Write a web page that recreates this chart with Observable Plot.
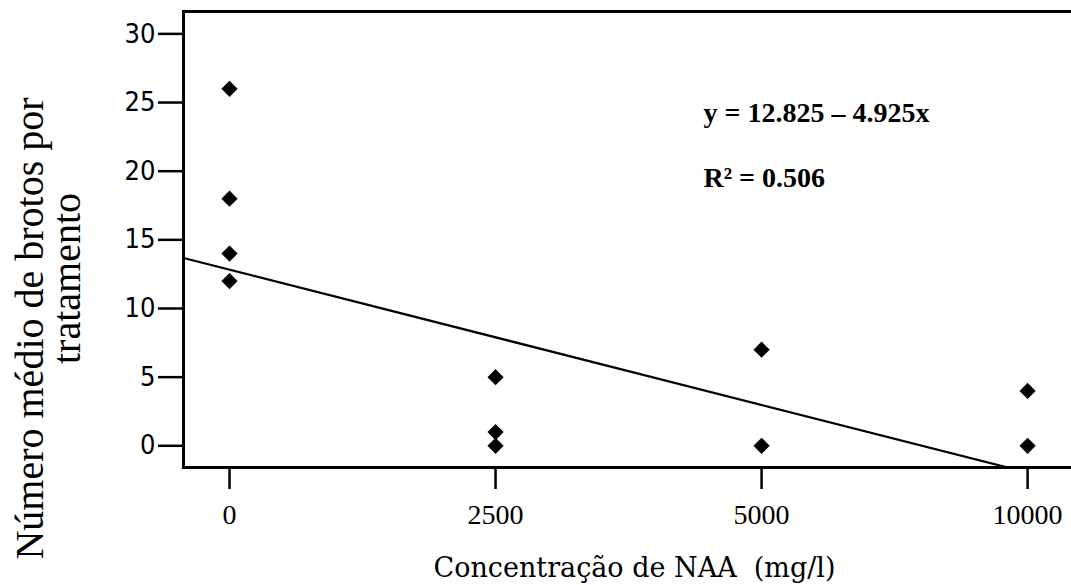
<!DOCTYPE html>
<html>
<head>
<meta charset="utf-8">
<script src="https://cdn.jsdelivr.net/npm/d3@7"></script>
<script src="https://cdn.jsdelivr.net/npm/@observablehq/plot@0.6"></script>
<style>
  html, body { margin: 0; padding: 0; background: #fff; }
</style>
</head>
<body>
<div id="chart"></div>
<script>
// Categories (equally spaced on the axis)
const concentrations = ["0", "2500", "5000", "10000"];
// Observations: category index and value
const pointCategory = [0, 0, 0, 0, 1, 1, 1, 2, 2, 3, 3];
const pointValue    = [26, 18, 14, 12, 5, 1, 0, 7, 0, 4, 0];
// Y ticks
const yTicks = [0, 5, 10, 15, 20, 25, 30];
// Regression
const intercept = 12.825;
const slope = -4.925;
const rSquared = 0.506;
// Labels
const xLabel = "Concentração de NAA  (mg/l)";
const yLabelLines = ["Número médio de brotos por", "tratamento"];

const xDomain = [-0.173, 3.165];
const yDomain = [-1.58, 31.63];

const points = pointCategory.map((c, i) => ({c, v: pointValue[i]}));
const fit = xDomain.map(c => ({c, v: intercept + slope * c}));
const eq1 = `y = ${intercept} – ${Math.abs(slope)}x`;
const eq2 = `R² = ${rSquared}`;

const chart = Plot.plot({
  width: 1071,
  height: 585,
  marginLeft: 183,
  marginRight: 0,
  marginTop: 11,
  marginBottom: 118,
  style: {background: "#fff", color: "#000", fontFamily: "Liberation Serif"},
  x: {type: "linear", domain: xDomain, axis: null},
  y: {domain: yDomain, axis: null},
  marks: [
    Plot.frame({anchor: "left", strokeWidth: 3, stroke: "#000"}),
    Plot.frame({anchor: "top", strokeWidth: 3, stroke: "#000"}),
    Plot.frame({anchor: "bottom", strokeWidth: 3, stroke: "#000"}),
    Plot.axisY(yTicks, {
      tickSize: 25, tickPadding: 3, strokeWidth: 2.5,
      fontSize: 27, fontFamily: "DejaVu Sans Condensed", label: null
    }),
    Plot.axisX([0, 1, 2, 3], {
      tickSize: 22, tickPadding: 15, strokeWidth: 2.5,
      tickFormat: i => concentrations[i],
      fontSize: 28, fontFamily: "Liberation Serif", label: null
    }),
    Plot.line(fit, {x: "c", y: "v", stroke: "#000", strokeWidth: 2.2, clip: true}),
    Plot.dot(points, {x: "c", y: "v", symbol: "diamond2", r: 7.3, fill: "#000", stroke: "none"}),
    Plot.text([eq1], {frameAnchor: "top-left", dx: 520, dy: 102, textAnchor: "start", lineAnchor: "middle",
      fontSize: 28, fontWeight: "bold", fontFamily: "Liberation Serif"}),
    Plot.text([eq2], {frameAnchor: "top-left", dx: 520, dy: 167, textAnchor: "start", lineAnchor: "middle",
      fontSize: 28, fontWeight: "bold", fontFamily: "Liberation Serif"}),
    Plot.text([xLabel], {frameAnchor: "bottom", dx: 7, dy: 101, textAnchor: "middle", lineAnchor: "middle",
      fontSize: 27, fontFamily: "DejaVu Serif"}),
    Plot.text([yLabelLines[0]], {frameAnchor: "left", rotate: -90, dx: -153, dy: 89,
      textAnchor: "middle", lineAnchor: "middle",
      fontSize: 40, fontFamily: "Liberation Serif"}),
    Plot.text([yLabelLines[1]], {frameAnchor: "left", rotate: -90, dx: -116, dy: 39,
      textAnchor: "middle", lineAnchor: "middle",
      fontSize: 40, fontFamily: "Liberation Serif"})
  ]
});
document.getElementById("chart").appendChild(chart);
</script>
</body>
</html>
